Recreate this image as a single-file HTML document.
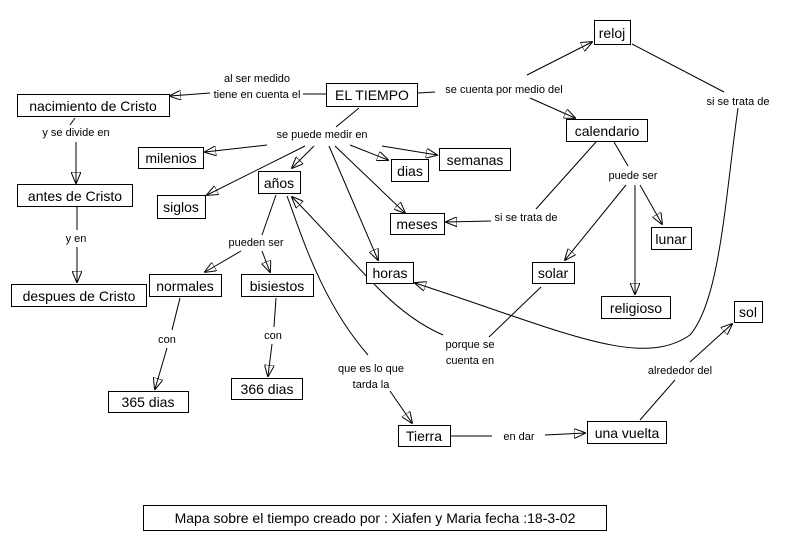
<!DOCTYPE html>
<html><head><meta charset="utf-8"><style>
html,body{margin:0;padding:0;background:#fff;}
svg{display:block;font-family:"Liberation Sans",sans-serif;}
.n rect{fill:#fff;stroke:#000;stroke-width:1;}
.n text{font-size:14px;text-anchor:middle;}
.l{font-size:11px;text-anchor:middle;}
line,path{stroke:#000;stroke-width:1;fill:none;}
</style></head><body>
<svg width="800" height="548" viewBox="0 0 800 548">
<defs><marker id="a" markerWidth="12" markerHeight="10" refX="11" refY="5" orient="auto" markerUnits="userSpaceOnUse"><path d="M0,0 L12,5 L0,10 z" fill="#000" stroke="none"/></marker></defs>

<!-- connectors -->
<line x1="326" y1="94" x2="303" y2="94"/>
<line x1="210" y1="93" x2="170" y2="96" marker-end="url(#a)"/>
<line x1="418" y1="93" x2="435" y2="92"/>
<line x1="527" y1="75" x2="592" y2="42" marker-end="url(#a)"/>
<line x1="530" y1="98" x2="575" y2="118" marker-end="url(#a)"/>
<line x1="632" y1="44" x2="724" y2="92"/>
<path d="M738 108 C 725 200, 720 300, 690 335 C 640 370, 560 330, 415 283" marker-end="url(#a)"/>
<line x1="359" y1="108" x2="336" y2="127"/>
<line x1="267" y1="145" x2="205" y2="152" marker-end="url(#a)"/>
<line x1="305" y1="146" x2="207" y2="195" marker-end="url(#a)"/>
<line x1="314" y1="146" x2="292" y2="168" marker-end="url(#a)"/>
<line x1="329" y1="146" x2="378" y2="260" marker-end="url(#a)"/>
<line x1="335" y1="146" x2="405" y2="213" marker-end="url(#a)"/>
<line x1="350" y1="145" x2="388" y2="160" marker-end="url(#a)"/>
<line x1="382" y1="146" x2="437" y2="155" marker-end="url(#a)"/>
<line x1="596" y1="142" x2="536" y2="209"/>
<line x1="491" y1="221" x2="446" y2="222" marker-end="url(#a)"/>
<line x1="614" y1="142" x2="628" y2="166"/>
<line x1="626" y1="185" x2="565" y2="260" marker-end="url(#a)"/>
<line x1="635" y1="185" x2="635" y2="294" marker-end="url(#a)"/>
<line x1="640" y1="185" x2="662" y2="224" marker-end="url(#a)"/>
<line x1="75" y1="118" x2="70" y2="125"/>
<line x1="76" y1="142" x2="76" y2="183" marker-end="url(#a)"/>
<line x1="77" y1="207" x2="77" y2="230"/>
<line x1="77" y1="247" x2="77" y2="282" marker-end="url(#a)"/>
<line x1="276" y1="195" x2="262" y2="235"/>
<line x1="241" y1="251" x2="205" y2="272" marker-end="url(#a)"/>
<line x1="262" y1="251" x2="270" y2="272" marker-end="url(#a)"/>
<line x1="180" y1="298" x2="172" y2="330"/>
<line x1="167" y1="348" x2="155" y2="389" marker-end="url(#a)"/>
<line x1="276" y1="298" x2="274" y2="327"/>
<line x1="272" y1="344" x2="268" y2="376" marker-end="url(#a)"/>
<path d="M287 196 C 300 230, 320 300, 368 355"/>
<line x1="390" y1="391" x2="412" y2="423" marker-end="url(#a)"/>
<path d="M443 335 C 420 325, 400 310, 380 290 C 350 260, 320 225, 292 197" marker-end="url(#a)"/>
<line x1="541" y1="287" x2="489" y2="337"/>
<line x1="451" y1="436" x2="492" y2="436"/>
<line x1="545" y1="435" x2="585" y2="433" marker-end="url(#a)"/>
<line x1="640" y1="420" x2="675" y2="380"/>
<line x1="690" y1="362" x2="732" y2="324" marker-end="url(#a)"/>

<!-- labels -->
<g class="l">
<text x="257" y="82">al ser medido</text><text x="257" y="98">tiene en cuenta el</text>
<text x="504" y="93">se cuenta por medio del</text>
<text x="322" y="138">se puede medir en</text>
<text x="76" y="136">y se divide en</text>
<text x="76" y="242">y en</text>
<text x="256" y="246">pueden ser</text>
<text x="526" y="221">si se trata de</text>
<text x="633" y="179">puede ser</text>
<text x="738" y="105">si se trata de</text>
<text x="167" y="343">con</text>
<text x="273" y="339">con</text>
<text x="470" y="348">porque se</text><text x="470" y="364">cuenta en</text>
<text x="371" y="372">que es lo que</text><text x="371" y="388">tarda la</text>
<text x="680" y="374">alrededor del</text>
<text x="519" y="440">en dar</text>
</g>

<!-- nodes -->
<g class="n">
<rect x="594.5" y="20.5" width="36" height="24"/><text x="612" y="38">reloj</text>
<rect x="326.5" y="83.5" width="91" height="23"/><text x="372" y="100">EL TIEMPO</text>
<rect x="17.5" y="94.5" width="152" height="22"/><text x="93" y="111">nacimiento de Cristo</text>
<rect x="566.5" y="119.5" width="81" height="22"/><text x="607" y="136">calendario</text>
<rect x="138.5" y="147.5" width="65" height="21"/><text x="171" y="163">milenios</text>
<rect x="439.5" y="148.5" width="71" height="22"/><text x="475" y="165">semanas</text>
<rect x="391.5" y="159.5" width="37" height="22"/><text x="410" y="176">dias</text>
<rect x="258.5" y="171.5" width="42" height="22"/><text x="279" y="188">años</text>
<rect x="157.5" y="195.5" width="48" height="23"/><text x="181" y="212">siglos</text>
<rect x="17.5" y="184.5" width="115" height="22"/><text x="75" y="201">antes de Cristo</text>
<rect x="390.5" y="213.5" width="54" height="21"/><text x="417" y="229">meses</text>
<rect x="651.5" y="227.5" width="40" height="22"/><text x="671" y="244">lunar</text>
<rect x="366.5" y="262.5" width="47" height="21"/><text x="390" y="278">horas</text>
<rect x="532.5" y="262.5" width="42" height="21"/><text x="553" y="278">solar</text>
<rect x="149.5" y="274.5" width="72" height="22"/><text x="185" y="291">normales</text>
<rect x="241.5" y="274.5" width="72" height="22"/><text x="277" y="291">bisiestos</text>
<rect x="11.5" y="284.5" width="135" height="22"/><text x="79" y="301">despues de Cristo</text>
<rect x="601.5" y="296.5" width="69" height="22"/><text x="636" y="313">religioso</text>
<rect x="734.5" y="301.5" width="28" height="21"/><text x="748" y="317">sol</text>
<rect x="108.5" y="391.5" width="80" height="21"/><text x="148" y="407">365 dias</text>
<rect x="231.5" y="378.5" width="71" height="21"/><text x="267" y="394">366 dias</text>
<rect x="398.5" y="425.5" width="52" height="21"/><text x="424" y="441">Tierra</text>
<rect x="587.5" y="421.5" width="79" height="22"/><text x="627" y="438">una vuelta</text>
<rect x="143.5" y="505.5" width="463" height="25"/><text x="375" y="523">Mapa sobre el tiempo creado por : Xiafen y Maria  fecha :18-3-02</text>
</g>
</svg>
</body></html>
